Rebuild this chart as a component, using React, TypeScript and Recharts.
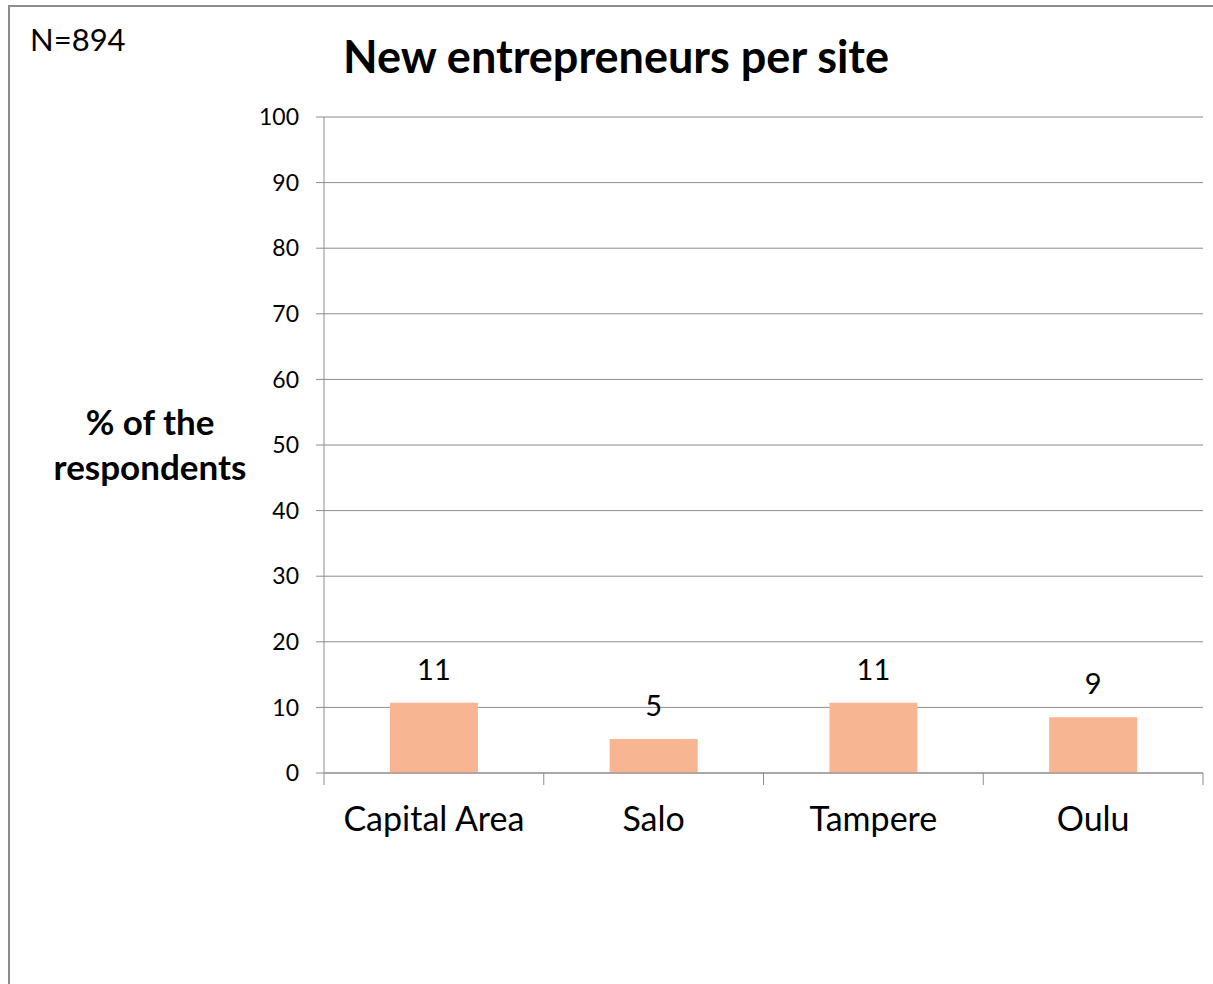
import React from 'react';
import { BarChart, Bar, XAxis, YAxis, CartesianGrid, LabelList, Label } from 'recharts';

const sites = ['Capital Area', 'Salo', 'Tampere', 'Oulu'];
const shares = [10.7, 5.2, 10.7, 8.5];
const yTicks = [0, 10, 20, 30, 40, 50, 60, 70, 80, 90, 100];

const font = 'Lato, "Open Sans", sans-serif';
const gray = '#8c8c8c';

const data = sites.map((name, i) => ({ name, value: shares[i] }));

const YTitle = (props: any) => {
  const { viewBox } = props;
  const cy = viewBox.y + viewBox.height / 2;
  return (
    <text x={150} y={cy - 10} textAnchor="middle" fontFamily={font} fontWeight={700} fontSize={35} fill="#000">
      <tspan x={150} dy={0}>% of the</tspan>
      <tspan x={150} dy={45}>respondents</tspan>
    </text>
  );
};

// category tick with the tick marks on the band edges, like Excel
const SiteTick = (props: any) => {
  const { x, y, payload, index, width } = props;
  const half = payload && payload.offset ? payload.offset : width / sites.length / 2;
  const top = y - 34;
  return (
    <g>
      <line x1={x - half} x2={x - half} y1={top} y2={top + 12} stroke={gray} />
      {index === sites.length - 1 && (
        <line x1={x + half} x2={x + half} y1={top} y2={top + 12} stroke={gray} />
      )}
      <text x={x} y={y} dy="0.71em" textAnchor="middle" fontFamily={font} fontSize={34} fill="#000">
        {payload.value}
      </text>
    </g>
  );
};

const App: React.FC = () => {
  return (
    <div style={{ position: 'fixed', left: 0, top: 0, width: 1213, height: 984, overflow: 'hidden', background: '#fff', fontFamily: font }}>
      <div style={{ position: 'absolute', left: 8, top: 5, width: 1220, height: 1000, border: `2px solid ${gray}`, boxSizing: 'border-box' }} />
      <div style={{ position: 'absolute', left: 30, top: 20, fontSize: 31, color: '#000' }}>N=894</div>
      <div style={{ position: 'absolute', left: 0, width: 1232, top: 29, textAlign: 'center', fontSize: 45, fontWeight: 700, color: '#000' }}>
        New entrepreneurs per site
      </div>
      <div style={{ position: 'absolute', left: 0, top: 0 }}>
        <BarChart width={1213} height={984} data={data} margin={{ top: 117, right: 10, bottom: 151, left: 0 }} barCategoryGap="30%">
          <CartesianGrid horizontal vertical={false} stroke={gray} />
          <XAxis
            dataKey="name"
            height={60}
            axisLine={{ stroke: gray }}
            tickLine={false}
            tickMargin={34}
            tickSize={0}
            tick={<SiteTick />}
          />
          <YAxis
            width={324}
            domain={[0, 100]}
            ticks={yTicks}
            interval={0}
            axisLine={{ stroke: gray }}
            tickLine={{ stroke: gray }}
            tickSize={8}
            tickMargin={17}
            tick={{ fontFamily: font, fontSize: 23, fill: '#000' }}
          >
            <Label content={<YTitle />} />
          </YAxis>
          <Bar dataKey="value" fill="#F8B592" isAnimationActive={false}>
            <LabelList
              dataKey="value"
              position="top"
              offset={23}
              formatter={(v: any) => Math.round(Number(v))}
              style={{ fontFamily: font, fontSize: 29, fill: '#000' }}
            />
          </Bar>
        </BarChart>
      </div>
    </div>
  );
};

export default App;
